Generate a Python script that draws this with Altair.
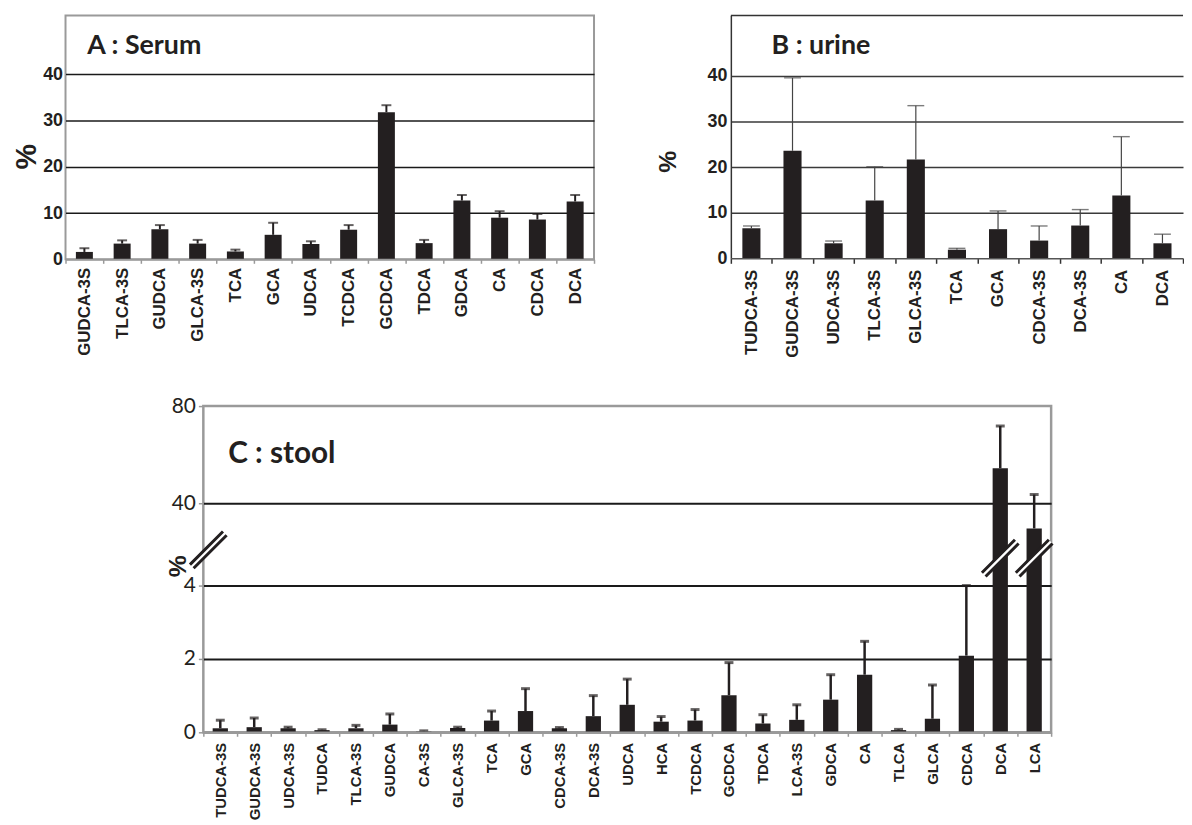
import altair as alt
import pandas as pd

# ---------------- data ----------------
# Panel A : serum (% of total bile acids)
a_categories = ["GUDCA-3S", "TLCA-3S", "GUDCA", "GLCA-3S", "TCA", "GCA", "UDCA",
                "TCDCA", "GCDCA", "TDCA", "GDCA", "CA", "CDCA", "DCA"]
a_means = [1.6, 3.4, 6.5, 3.4, 1.7, 5.3, 3.3, 6.4, 31.8, 3.5, 12.7, 9.0, 8.6, 12.5]
a_sd = [0.8, 0.7, 0.9, 0.8, 0.4, 2.6, 0.6, 1.0, 1.5, 0.7, 1.2, 1.4, 1.2, 1.4]

# Panel B : urine
b_categories = ["TUDCA-3S", "GUDCA-3S", "UDCA-3S", "TLCA-3S", "GLCA-3S", "TCA",
                "GCA", "CDCA-3S", "DCA-3S", "CA", "DCA"]
b_means = [6.6, 23.6, 3.3, 12.7, 21.7, 1.9, 6.4, 3.9, 7.2, 13.8, 3.3]
b_sd = [0.5, 16.0, 0.5, 7.4, 11.8, 0.3, 4.0, 3.2, 3.5, 12.9, 2.0]

# Panel C : stool
c_categories = ["TUDCA-3S", "GUDCA-3S", "UDCA-3S", "TUDCA", "TLCA-3S", "GUDCA",
                "CA-3S", "GLCA-3S", "TCA", "GCA", "CDCA-3S", "DCA-3S", "UDCA",
                "HCA", "TCDCA", "GCDCA", "TDCA", "LCA-3S", "GDCA", "CA", "TLCA",
                "GLCA", "CDCA", "DCA", "LCA"]
c_means = [0.11, 0.14, 0.11, 0.06, 0.11, 0.21, 0.02, 0.12, 0.32, 0.58, 0.11, 0.44,
           0.75, 0.29, 0.32, 1.01, 0.24, 0.34, 0.89, 1.57, 0.06, 0.37, 2.09, 54.4, 29.0]
c_sd = [0.22, 0.25, 0.03, 0.01, 0.08, 0.29, 0.02, 0.02, 0.26, 0.61, 0.02, 0.56,
        0.70, 0.14, 0.30, 0.89, 0.24, 0.41, 0.68, 0.91, 0.02, 0.92, 1.91, 17.4, 14.6]
c_y_ticks = [0, 2, 4, 40, 80]
c_broken_bars = ["DCA", "LCA"]

INK = "#231f20"
GREY = "#9a9a9a"


def frame(cats, means, sd):
    df = pd.DataFrame({"cat": cats, "val": means, "sd": sd})
    df["hi"] = df["val"] + df["sd"]
    return df


def x_axis(size, pad, tick, dom_color, dom_width, tick_color):
    return alt.Axis(title=None, labelAngle=270, labelFont="Liberation Sans",
                    labelFontWeight="bold", labelFontSize=size, labelColor=INK,
                    labelPadding=pad, tickBand="extent", tickSize=tick,
                    tickColor=tick_color, tickWidth=1.5, domainColor=dom_color,
                    domainWidth=dom_width, zindex=1)


hide_zero_grid = {"condition": {"test": "datum.value === 0", "value": 0}, "value": 1}


def title_layer(text, x, y, size):
    return alt.Chart(pd.DataFrame({"t": [text]})).mark_text(
        align="left", baseline="alphabetic", font="Lato", fontWeight="bold",
        fontSize=size, color=INK).encode(x=alt.value(x), y=alt.value(y), text="t:N")


# ---------------- panel A ----------------
dfa = frame(a_categories, a_means, a_sd)
a_x = alt.X("cat:N", sort=a_categories, scale=alt.Scale(paddingInner=0, paddingOuter=0),
            axis=x_axis(17, 4, 4, GREY, 2, GREY))
a_ys = alt.Scale(domain=[0, 52.7], nice=False)
a_ya = alt.Axis(values=[0, 10, 20, 30, 40], title="%", titleAngle=270, titleX=-39,
                titleY=142, titleAlign="center", titleBaseline="middle",
                titleFont="Liberation Sans", titleFontWeight="bold", titleFontSize=29,
                titleColor=INK, labelFont="Liberation Sans", labelFontWeight="bold",
                labelFontSize=18, labelColor=INK, labelPadding=3, ticks=False,
                domain=False, grid=True, gridColor="#1a1a1a", gridWidth=1.5,
                gridOpacity=hide_zero_grid)
base_a = alt.Chart(dfa)
chart_a = alt.layer(
    base_a.mark_bar(color=INK, width=alt.RelativeBandSize(0.45)).encode(
        x=a_x, y=alt.Y("val:Q", scale=a_ys, axis=a_ya)),
    base_a.mark_rule(color=INK, strokeWidth=2).encode(
        x=a_x, y=alt.Y("val:Q", scale=a_ys, axis=a_ya), y2="hi:Q"),
    base_a.mark_tick(color=INK, thickness=2, size=10).encode(
        x=a_x, y=alt.Y("hi:Q", scale=a_ys, axis=a_ya)),
    title_layer("A : Serum", 22, 39, 27),
).properties(width=533, height=246, view=alt.ViewBackground(stroke=GREY, strokeWidth=2))

# ---------------- panel B ----------------
B_W = 456
dfb = frame(b_categories, b_means, b_sd)
b_x = alt.X("cat:N", sort=b_categories, scale=alt.Scale(paddingInner=0, paddingOuter=0),
            axis=x_axis(17, 6, 5, "#555555", 1.5, "#333333"))
b_ys = alt.Scale(domain=[0, 53.3], nice=False)
b_ya = alt.Axis(values=[0, 10, 20, 30, 40], title="%", titleAngle=270, titleX=-64,
                titleY=147, titleAlign="center", titleBaseline="middle",
                titleFont="Liberation Sans", titleFontWeight="bold", titleFontSize=25,
                titleColor=INK, labelFont="Liberation Sans", labelFontWeight="bold",
                labelFontSize=18, labelColor=INK, labelPadding=4, ticks=False,
                domain=True, domainColor="#333333", domainWidth=1.5, grid=True,
                gridColor="#3a3a3a", gridWidth=1.5, gridOpacity=hide_zero_grid)
base_b = alt.Chart(dfb)
chart_b = alt.layer(
    base_b.mark_bar(color=INK, width=alt.RelativeBandSize(0.44)).encode(
        x=b_x, y=alt.Y("val:Q", scale=b_ys, axis=b_ya)),
    base_b.mark_rule(color="#444444", strokeWidth=1.2).encode(
        x=b_x, y=alt.Y("val:Q", scale=b_ys, axis=b_ya), y2="hi:Q"),
    base_b.mark_tick(color="#444444", thickness=1.4, size=17).encode(
        x=b_x, y=alt.Y("hi:Q", scale=b_ys, axis=b_ya)),
    alt.Chart(pd.DataFrame({"t": [0]})).mark_rule(color="#333333", strokeWidth=1.5).encode(
        x=alt.value(0), x2=alt.value(B_W), y=alt.value(0)),
    title_layer("B : urine", 41, 39, 27),
).properties(width=B_W, height=245, view=alt.ViewBackground(stroke=None))

# ---------------- panel C (broken axis) ----------------
C_H = 329
dfc = frame(c_categories, c_means, c_sd)
c_x = alt.X("cat:N", sort=c_categories, scale=alt.Scale(paddingInner=0, paddingOuter=0),
            axis=x_axis(15, 6, 4, GREY, 2.5, GREY))
c_ys = alt.Scale(domain=[0, 4, 40, 80], range=[C_H, 181, 98, 0], nice=False, zero=False)
c_ya = alt.Axis(values=c_y_ticks, title="%", titleAngle=270, titleX=-26, titleY=161,
                titleAlign="center", titleBaseline="middle", titleFont="Liberation Sans",
                titleFontWeight="bold", titleFontSize=25, titleColor=INK,
                labelFont="Lato", labelFontSize=21, labelColor=INK, labelPadding=3,
                ticks=True, tickSize=5, tickColor=GREY, tickWidth=1.5, domain=False,
                grid=True, gridColor="#1a1a1a", gridWidth=2,
                gridOpacity={"condition": {"test": "datum.value === 0 || datum.value === 80",
                                           "value": 0}, "value": 1})
base_c = alt.Chart(dfc)
band_path = "M -1 0.8 L 0.8 -1 L 1 -0.8 L -0.8 1 Z"
lines_path = "M -1 0.8 L 0.8 -1 M -0.8 1 L 1 -0.8"
brk = alt.Chart(pd.DataFrame({"cat": c_broken_bars}))
axis_brk = alt.Chart(pd.DataFrame({"t": [0]}))
chart_c = alt.layer(
    base_c.mark_bar(color=INK, width=alt.RelativeBandSize(0.45)).encode(
        x=c_x, y=alt.Y("val:Q", scale=c_ys, axis=c_ya)),
    base_c.mark_rule(color=INK, strokeWidth=2.5).encode(
        x=c_x, y=alt.Y("val:Q", scale=c_ys, axis=c_ya), y2="hi:Q"),
    base_c.mark_tick(color=INK, thickness=3, size=9).encode(
        x=c_x, y=alt.Y("hi:Q", scale=c_ys, axis=c_ya)),
    brk.mark_point(shape=band_path, filled=True, fill="white", strokeWidth=0,
                   size=1369, opacity=1).encode(x=c_x, y=alt.datum(16)),
    brk.mark_point(shape=lines_path, filled=False, color=INK, strokeWidth=3,
                   size=1369, opacity=1).encode(x=c_x, y=alt.datum(16)),
    axis_brk.mark_point(shape=band_path, filled=True, fill="white", strokeWidth=0,
                        size=1369, opacity=1).encode(x=alt.value(5), y=alt.datum(19.6)),
    axis_brk.mark_point(shape=lines_path, filled=False, color=INK, strokeWidth=3,
                        size=1369, opacity=1).encode(x=alt.value(5), y=alt.datum(19.6)),
    title_layer("C : stool", 25, 57, 30),
).properties(width=855, height=C_H, view=alt.ViewBackground(stroke=GREY, strokeWidth=2.5))

spacer = alt.Chart(pd.DataFrame({"t": [0]})).mark_rule(opacity=0).encode(
    x=alt.value(0), x2=alt.value(99), y=alt.value(0)
).properties(width=99, height=10, view=alt.ViewBackground(stroke=None))

row1 = alt.hconcat(chart_a, chart_b, spacing=60)
row2 = alt.hconcat(spacer, chart_c, spacing=0)
chart = alt.vconcat(row1, row2, spacing=36).properties(
    padding={"left": 4, "top": 3, "right": 0, "bottom": 0}
).configure(background="white")

chart.save("out.html", embed_options={"renderer": "svg", "actions": False})
